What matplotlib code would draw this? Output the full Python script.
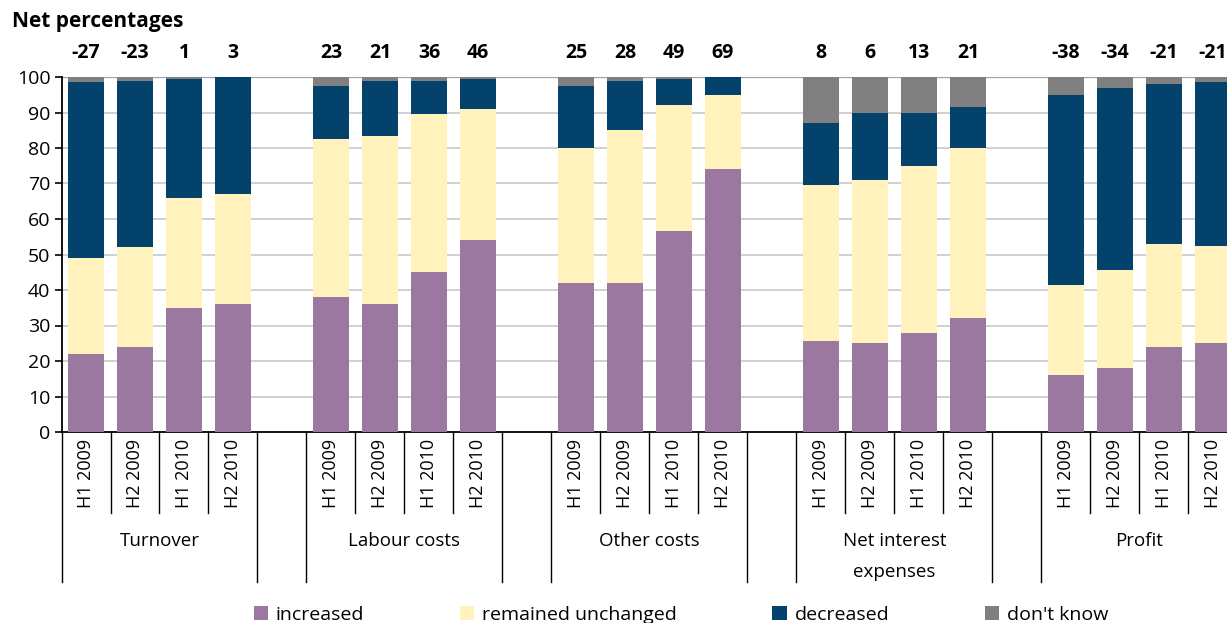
import matplotlib
matplotlib.use("Agg")
import matplotlib.pyplot as plt
from matplotlib.patches import Patch
import numpy as np

plt.rcParams['font.family'] = ['Open Sans', 'DejaVu Sans']

groups = ['Turnover', 'Labour costs', 'Other costs', 'Net interest\nexpenses', 'Profit']
periods = ['H1 2009', 'H2 2009', 'H1 2010', 'H2 2010']

# one row per group, one column per period
increased = [[22, 24, 35, 36],
             [38, 36, 45, 54],
             [42, 42, 56.5, 74],
             [25.5, 25, 28, 32],
             [16, 18, 24, 25]]
unchanged = [[27, 28, 31, 31],
             [44.5, 47.5, 44.5, 37],
             [38, 43, 35.5, 21],
             [44, 46, 47, 48],
             [25.5, 27.5, 29, 27.5]]
decreased = [[49.5, 47, 33.5, 33],
             [15, 15.5, 9.5, 8.5],
             [17.5, 14, 7.5, 5],
             [17.5, 19, 15, 11.5],
             [53.5, 51.5, 45, 46]]
dont_know = [[1.5, 1, 0.5, 0],
             [2.5, 1, 1, 0.5],
             [2.5, 1, 0.5, 0],
             [13, 10, 10, 8.5],
             [5, 3, 2, 1.5]]
net = [[-27, -23, 1, 3],
       [23, 21, 36, 46],
       [25, 28, 49, 69],
       [8, 6, 13, 21],
       [-38, -34, -21, -21]]

series = [('increased', increased, '#9a78a0'),
          ('remained unchanged', unchanged, '#fff2bc'),
          ('decreased', decreased, '#02426b'),
          ("don't know", dont_know, '#808080')]

fig = plt.figure(figsize=(12.27, 6.23), dpi=100)
ax = fig.add_axes([61.5 / 1227, 191 / 623, 1176 / 1227, 355 / 623])

# positions: 4 bars per group, one empty slot between groups
xpos = []
for g in range(len(groups)):
    xpos.append([g * 5 + i for i in range(4)])
xflat = np.array(xpos).ravel()

bottom = np.zeros(len(xflat))
for name, vals, col in series:
    v = np.array(vals).ravel()
    ax.bar(xflat, v, width=0.72, bottom=bottom, color=col, label=name, zorder=3)
    bottom += v

ax.set_xlim(-0.5, 23.5)
ax.set_ylim(0, 100)
ax.set_yticks(range(0, 101, 10))
ax.tick_params(axis='y', labelsize=14, length=5, width=1.2, direction='out', pad=3)
ax.set_xticks([])
for y in range(10, 100, 10):
    ax.axhline(y, color='#c4c4c4', lw=1.1, zorder=1)
ax.axhline(100, color='#a0a0a0', lw=1.6, zorder=1)
for s in ['top', 'right']:
    ax.spines[s].set_visible(False)
ax.spines['left'].set_linewidth(1.3)
ax.spines['bottom'].set_linewidth(1.3)

trans = ax.get_xaxis_transform()
short_y = -81 / 355
long_y = -150 / 355
for g in range(len(groups)):
    start = g * 5 - 0.5
    for b in [start, start + 4]:
        ax.plot([b, b], [0, long_y], color='black', lw=1, transform=trans, clip_on=False)
    for k in range(1, 4):
        ax.plot([start + k, start + k], [0, short_y], color='black', lw=1, transform=trans, clip_on=False)
    for i in range(4):
        x = xpos[g][i]
        ax.text(x, -7 / 355, periods[i], rotation=90, ha='center', va='top',
                fontsize=13, transform=trans)
        ax.text(x, 1 + 24 / 355, str(net[g][i]), ha='center', va='center',
                fontsize=14, fontweight='bold', transform=trans)
    ax.text(g * 5 + 1.5, -100 / 355, groups[g], ha='center', va='top',
            fontsize=13.5, linespacing=1.95, transform=trans)

fig.text(12 / 1227, 1 - 22 / 623, 'Net percentages', fontsize=15, fontweight='bold',
         ha='left', va='center')

handles = [Patch(facecolor=c, label=n) for n, _, c in series]
fig.legend(handles=handles, loc='center', bbox_to_anchor=(0.555, 8 / 623), ncol=4,
           frameon=False, fontsize=14, handlelength=0.75, handleheight=0.75,
           handletextpad=0.4, columnspacing=4.9)

fig.savefig('out.png', dpi=100)
